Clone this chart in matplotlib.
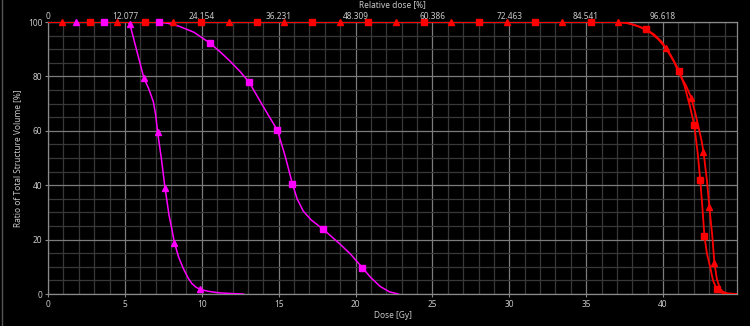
import matplotlib
matplotlib.use("Agg")
import matplotlib.pyplot as plt
from matplotlib.lines import Line2D
from matplotlib.ticker import MultipleLocator

plt.rcParams['font.family'] = ['Noto Sans', 'DejaVu Sans']

# curves (dose [Gy], volume [%])
mag_tri_dose = [0.0, 5.2, 5.33, 5.6, 5.9, 6.24, 6.55, 6.85, 7.0, 7.13, 7.37, 7.61, 7.87, 8.05, 8.22,
                8.5, 8.8, 9.1, 9.35, 9.6, 9.89, 10.5, 11.2, 12.0, 12.7]
mag_tri_vol = [100, 100, 99.1, 93.2, 86.7, 79.3, 75.5, 70.7, 66.0, 59.4, 49.9, 39.1, 29.0, 24.0, 18.9,
               13.5, 9.4, 6.0, 3.9, 2.6, 1.7, 0.9, 0.4, 0.15, 0.0]
mag_tri_mk_dose = [1.82, 5.33, 6.24, 7.13, 7.61, 8.22, 9.89]
mag_tri_mk_vol = [100, 99.1, 79.3, 59.4, 39.1, 18.9, 1.7]

mag_sq_dose = [0.0, 7.24, 7.8, 8.5, 9.5, 10.54, 11.2, 11.84, 12.49, 13.09, 14.0, 14.92, 15.41, 15.89,
               16.2, 16.6, 17.1, 17.87, 18.5, 19.0, 19.7, 20.44, 21.0, 21.6, 22.2, 22.78]
mag_sq_vol = [100, 100, 99.5, 98.5, 96.2, 92.2, 89.0, 85.6, 81.8, 77.8, 68.9, 60.2, 51.0, 40.6,
              35.0, 30.5, 27.3, 23.9, 20.8, 18.3, 14.5, 9.7, 6.0, 2.8, 0.8, 0.0]
mag_sq_mk_dose = [3.62, 7.24, 10.54, 13.09, 14.92, 15.89, 17.87, 20.44]
mag_sq_mk_vol = [100, 100, 92.2, 77.8, 60.2, 40.6, 23.9, 9.7]

red_sq_dose = [0.0, 36.5, 37.5, 38.2, 38.86, 39.4, 39.9, 40.5, 41.05, 41.4, 41.75, 42.03, 42.25, 42.42,
               42.57, 42.69, 42.85, 43.06, 43.25, 43.49, 43.7, 43.95, 44.3, 44.8]
red_sq_vol = [100, 100, 99.8, 98.8, 97.4, 95.5, 92.8, 87.8, 82.0, 76.5, 69.0, 62.1, 52.0, 41.8,
              31.0, 21.4, 15.0, 10.0, 5.0, 1.7, 0.7, 0.2, 0.05, 0.0]
red_sq_mk_dose = [2.71, 6.33, 9.95, 13.58, 17.2, 20.82, 24.44, 28.06, 31.68, 35.3,
                  38.86, 41.05, 42.03, 42.42, 42.69, 43.49]
red_sq_mk_vol = [100, 100, 100, 100, 100, 100, 100, 100, 100, 100,
                 97.4, 82.0, 62.1, 41.8, 21.4, 1.7]

red_tri_dose = [0.0, 37.09, 37.8, 38.5, 39.2, 39.7, 40.2, 40.7, 41.1, 41.5, 41.83, 42.1, 42.3, 42.5,
                42.63, 42.85, 43.01, 43.2, 43.34, 43.5, 43.7, 43.9, 44.2, 44.8]
red_tri_vol = [100, 100, 99.5, 98.2, 96.0, 93.6, 90.3, 85.5, 80.5, 76.5, 72.2, 66.5, 61.5, 56.5,
               52.3, 42.0, 32.1, 21.5, 11.5, 5.5, 2.0, 0.8, 0.2, 0.0]
red_tri_mk_dose = [0.89, 4.51, 8.13, 11.75, 15.37, 18.99, 22.62, 26.24, 29.86, 33.46, 37.09,
                   40.2, 41.83, 42.63, 43.01, 43.34]
red_tri_mk_vol = [100, 100, 100, 100, 100, 100, 100, 100, 100, 100, 100,
                  90.3, 72.2, 52.3, 32.1, 11.5]

x_ticks = [0, 5, 10, 15, 20, 25, 30, 35, 40]
top_labels = ["0", "12.077", "24.154", "36.231", "48.309", "60.386", "72.463", "84.541", "96.618"]
y_ticks = [0, 20, 40, 60, 80, 100]

RED = "#ff0000"
MAG = "#ff00ff"
TXT = "#c8c8c8"
FS = 6

fig = plt.figure(figsize=(7.5, 3.26), dpi=100, facecolor="black")
ax = fig.add_axes([48 / 750, 1 - 294 / 326, (737 - 48) / 750, (294 - 22) / 326])
ax.set_facecolor("black")

ax.set_xlim(0, 44.81)
ax.set_ylim(0, 100)
ax.set_xticks(x_ticks)
ax.set_yticks(y_ticks)
ax.xaxis.set_minor_locator(MultipleLocator(1))
ax.yaxis.set_minor_locator(MultipleLocator(5))
ax.grid(which="major", color="#7c7c7c", linewidth=0.9)
ax.grid(which="minor", color="#383838", linewidth=0.9)
ax.set_axisbelow(True)
for s in ax.spines.values():
    s.set_color("#8a8a8a")
    s.set_linewidth(0.9)
ax.tick_params(which="major", colors="#8a8a8a", labelcolor=TXT, labelsize=FS, length=2, pad=2)
ax.tick_params(which="minor", length=0)

ax.plot(mag_tri_dose, mag_tri_vol, color=MAG, lw=1.1, zorder=3)
ax.plot(mag_sq_dose, mag_sq_vol, color=MAG, lw=1.1, zorder=3)
ax.plot(red_sq_dose, red_sq_vol, color=RED, lw=1.3, zorder=4)
ax.plot(red_tri_dose, red_tri_vol, color=RED, lw=1.3, zorder=4)

ax.plot(red_sq_mk_dose, red_sq_mk_vol, ls="none", marker="s", ms=4.2, color=RED, zorder=5, clip_on=False)
ax.plot(red_tri_mk_dose, red_tri_mk_vol, ls="none", marker="^", ms=4.0, color=RED, zorder=5, clip_on=False)
ax.plot(mag_sq_mk_dose, mag_sq_mk_vol, ls="none", marker="s", ms=4.2, color=MAG, zorder=6, clip_on=False)
ax.plot(mag_tri_mk_dose, mag_tri_mk_vol, ls="none", marker="^", ms=4.0, color=MAG, zorder=6, clip_on=False)

ax.set_xlabel("Dose [Gy]", color=TXT, fontsize=FS, labelpad=2)
ax.set_ylabel("Ratio of Total Structure Volume [%]", color=TXT, fontsize=FS, labelpad=4)

top = ax.twiny()
top.set_xlim(ax.get_xlim())
top.set_xticks(x_ticks)
top.set_xticklabels(top_labels)
top.tick_params(colors="#8a8a8a", labelcolor=TXT, labelsize=FS, length=0, pad=1)
for s in top.spines.values():
    s.set_visible(False)
top.set_xlabel("Relative dose [%]", color=TXT, fontsize=FS, labelpad=3.5)

fig.add_artist(Line2D([1.5 / 750, 1.5 / 750], [0, 1], color="#555555", lw=1))

fig.savefig("out.png", dpi=100, facecolor="black")
